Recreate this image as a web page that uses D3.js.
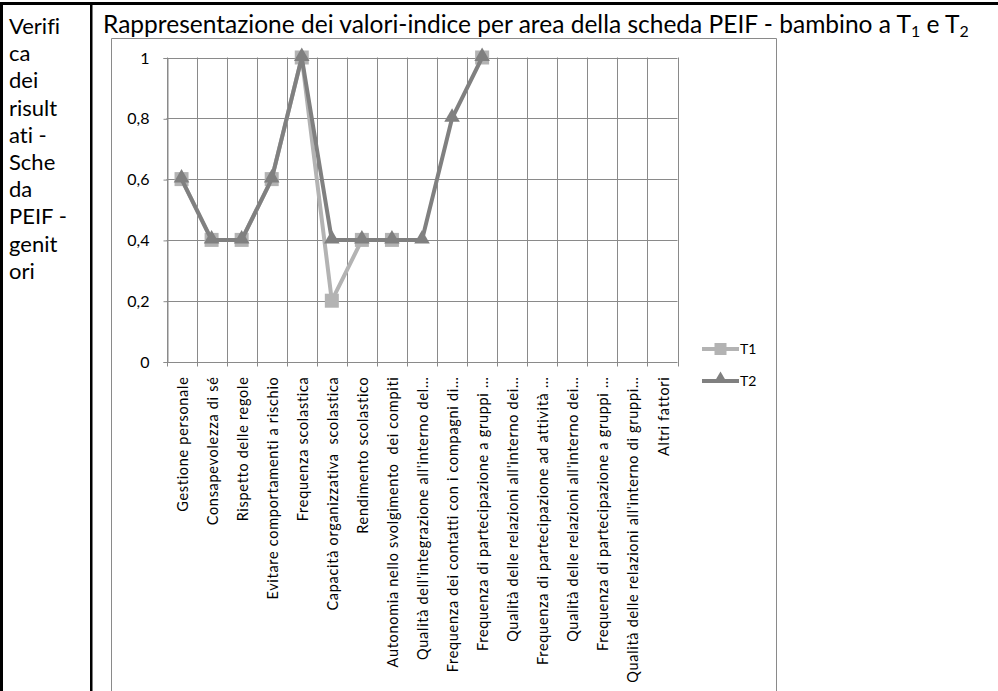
<!DOCTYPE html>
<html>
<head>
<meta charset="utf-8">
<script src="https://cdn.jsdelivr.net/npm/d3@7"></script>
<style>
  html, body { margin: 0; padding: 0; background: #fff; }
  svg { display: block; }
  text { font-family: Lato, "Open Sans", sans-serif; font-variant-ligatures: none; }
</style>
</head>
<body>
<svg id="chart" width="998" height="691"></svg>
<script>
// ---------------- data ----------------
const categories = [
  "Gestione personale",
  "Consapevolezza di sé",
  "Rispetto delle regole",
  "Evitare comportamenti a rischio",
  "Frequenza scolastica",
  "Capacità organizzativa  scolastica",
  "Rendimento scolastico",
  "Autonomia nello svolgimento  dei compiti",
  "Qualità dell'integrazione all'interno del…",
  "Frequenza dei contatti con i compagni di…",
  "Frequenza di partecipazione a gruppi …",
  "Qualità delle relazioni all'interno dei…",
  "Frequenza di partecipazione ad attività …",
  "Qualità delle relazioni all'interno dei…",
  "Frequenza di partecipazione a gruppi …",
  "Qualità delle relazioni all'interno di gruppi…",
  "Altri fattori"
];
const seriesNames = ["T1", "T2"];
const valuesT1 = [0.6, 0.4, 0.4, 0.6, 1, 0.2, 0.4, 0.4, null, null, 1, null, null, null, null, null, null];
const valuesT2 = [0.6, 0.4, 0.4, 0.6, 1, 0.4, 0.4, 0.4, 0.4, 0.8, 1, null, null, null, null, null, null];
const yTicks = [0, 0.2, 0.4, 0.6, 0.8, 1];
const sideLines = ["Verifi", "ca", "dei", "risult", "ati -", "Sche", "da", "PEIF -", "genit", "ori"];

// ---------------- drawing ----------------
const svg = d3.select("#chart");
const colT1 = "#b3b3b3", colT2 = "#808080", gridCol = "#8a8a8a";

// table borders
svg.append("rect").attr("x", 0).attr("y", 2).attr("width", 998).attr("height", 3).attr("fill", "#000");
svg.append("rect").attr("x", 0).attr("y", 2).attr("width", 3).attr("height", 689).attr("fill", "#000");
svg.append("rect").attr("x", 90).attr("y", 2).attr("width", 2.5).attr("height", 689).attr("fill", "#000");

// left cell text
svg.append("g").selectAll("text").data(sideLines).join("text")
  .attr("x", 9).attr("y", (d, i) => 34 + i * 27.2)
  .attr("font-size", 22).attr("fill", "#000").text(d => d);

// title
const title = svg.append("text").attr("x", 103).attr("y", 33).attr("font-size", 20).attr("fill", "#000");
title.append("tspan").text("Rappresentazione dei valori-indice per area della scheda PEIF - bambino a T");
title.append("tspan").attr("font-size", "0.65em").attr("dy", 4).text("1");
title.append("tspan").attr("dy", -4).text(" e T");
title.append("tspan").attr("font-size", "0.65em").attr("dy", 4).text("2");
{
  const w = title.node().getComputedTextLength();
  title.attr("font-size", 20 * 866 / w);
}

// chart frame
svg.append("path")
  .attr("d", "M111.5,700 L111.5,38.5 L776.5,38.5 L776.5,700")
  .attr("fill", "none").attr("stroke", gridCol).attr("stroke-width", 1);

const x = d3.scaleBand().domain(d3.range(categories.length)).range([166.5, 677.5]);
const y = d3.scaleLinear().domain([0, 1]).range([361.5, 57.5]);
const bw = x.bandwidth();
const cx = i => x(i) + bw / 2;

// horizontal gridlines
svg.append("g").selectAll("line").data(yTicks).join("line")
  .attr("x1", x.range()[0]).attr("x2", x.range()[1])
  .attr("y1", d => Math.round(y(d)) + 0.5).attr("y2", d => Math.round(y(d)) + 0.5)
  .attr("stroke", gridCol).attr("stroke-width", 1);

// vertical gridlines at category boundaries
const bounds = d3.range(categories.length + 1).map(i => x.range()[0] + i * x.step());
svg.append("g").selectAll("line").data(bounds).join("line")
  .attr("x1", d => Math.round(d) + 0.5).attr("x2", d => Math.round(d) + 0.5)
  .attr("y1", y(1)).attr("y2", y(0) + 5)
  .attr("stroke", gridCol).attr("stroke-width", 1);

// y axis
const fmt = d3.formatLocale({ decimal: ",", thousands: ".", grouping: [3], currency: ["", "€"] }).format("~g");
const yAxis = svg.append("g").attr("transform", `translate(${Math.round(x.range()[0]) + 0.5},0.5)`)
  .call(d3.axisLeft(y).tickValues(yTicks).tickFormat(fmt).tickSize(4).tickPadding(14));
yAxis.select(".domain").attr("stroke", gridCol);
yAxis.selectAll(".tick line").attr("stroke", gridCol);
yAxis.selectAll(".tick text").attr("font-size", 16).attr("font-family", "Lato, sans-serif").attr("fill", "#000");

// x labels (rotated)
svg.append("g").selectAll("text").data(categories).join("text")
  .attr("transform", (d, i) => `translate(${cx(i) + 1},${y(0) + 15}) rotate(-90)`)
  .attr("text-anchor", "end").attr("dy", "0.35em")
  .attr("font-size", 14.5).attr("letter-spacing", 0.7).attr("fill", "#000")
  .style("white-space", "pre")
  .text(d => d);

// series
const line = d3.line().defined(d => d != null).x((d, i) => cx(i)).y(d => y(d));
const tri = d3.symbol().type(d3.symbolTriangle).size(105);

function drawSeries(vals, col, marker) {
  svg.append("path").datum(vals).attr("d", line)
    .attr("fill", "none").attr("stroke", col).attr("stroke-width", 4)
    .attr("stroke-linejoin", "round");
  const pts = vals.map((v, i) => ({ v, i })).filter(d => d.v != null);
  if (marker === "square") {
    svg.append("g").selectAll("rect").data(pts).join("rect")
      .attr("x", d => cx(d.i) - 7).attr("y", d => y(d.v) - 7)
      .attr("width", 14).attr("height", 14).attr("fill", col);
  } else {
    svg.append("g").selectAll("path").data(pts).join("path")
      .attr("transform", d => `translate(${cx(d.i)},${y(d.v) - 1})`)
      .attr("d", tri).attr("fill", col);
  }
}
drawSeries(valuesT1, colT1, "square");
drawSeries(valuesT2, colT2, "triangle");

// legend
const legend = svg.append("g");
const legY = [349, 381];
seriesNames.forEach((name, k) => {
  const col = k === 0 ? colT1 : colT2;
  const g = legend.append("g").attr("transform", `translate(0,${legY[k]})`);
  g.append("line").attr("x1", 702).attr("x2", 739).attr("y1", 0).attr("y2", 0)
    .attr("stroke", col).attr("stroke-width", 4);
  if (k === 0) {
    g.append("rect").attr("x", 714.5).attr("y", -6).attr("width", 12).attr("height", 12).attr("fill", col);
  } else {
    g.append("path").attr("transform", "translate(720.5,-2)").attr("d", d3.symbol().type(d3.symbolTriangle).size(75)).attr("fill", col);
  }
  g.append("text").attr("x", 740).attr("y", 0).attr("dy", "0.35em")
    .attr("font-size", 14).attr("fill", "#000").text(name);
});
</script>
</body>
</html>
